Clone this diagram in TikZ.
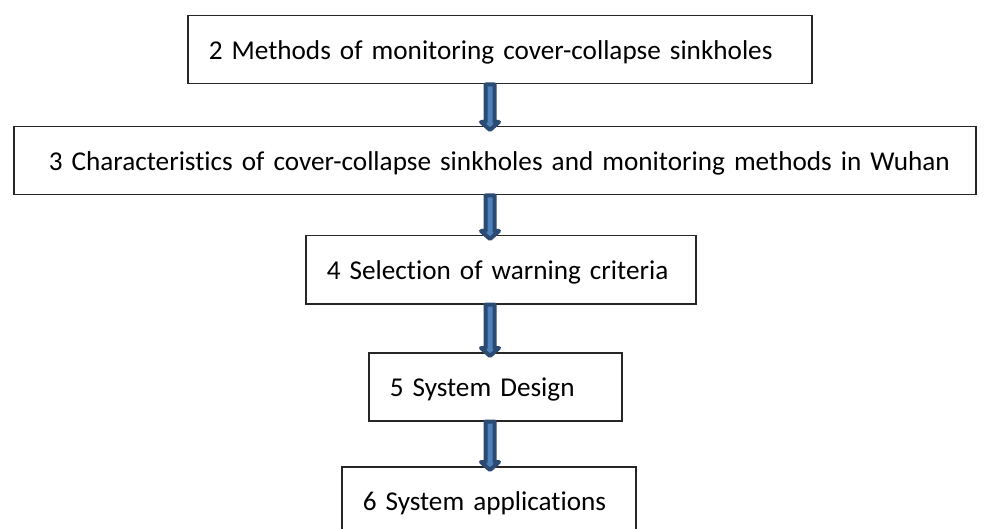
\documentclass[tikz,border=0pt]{standalone}
\usepackage{fontspec}
\setmainfont{Carlito}[Ligatures=NoCommon]
\usetikzlibrary{calc}
\definecolor{arrowfill}{HTML}{4F81BD}
\definecolor{arrowline}{HTML}{2B4B73}
% block arrow from the bottom of one box to the top of the next
\newcommand{\downblock}[2]{%
\path (#1.south -| axis) coordinate (s) (#2.north -| axis) coordinate (t);
\draw[blockarrow] ($(s)+(-4.5,0)$) -- ($(t)+(-4.5,4)$) -- ($(t)+(-9,4)$) -- ($(t)+(0,-4)$)
  -- ($(t)+(9,4)$) -- ($(t)+(4.5,4)$) -- ($(s)+(4.5,0)$) -- cycle;}
\begin{document}
\begin{tikzpicture}[x=1pt,y=1pt,
  stage/.style={draw=black!85,line width=1.5pt,minimum height=68pt,inner xsep=21pt,text height=23pt,text depth=3pt,align=left,anchor=north west,font=\fontsize{27.2}{33}\selectfont},
  blockarrow/.style={fill=arrowfill,draw=arrowline,line width=4pt,line join=round}]
\useasboundingbox (0,0) rectangle (984,-529);
\coordinate (axis) at (490,0);
\node[stage,text width=582pt] (methods) at (187,-15) {2 Methods of monitoring cover-collapse sinkholes};
\node[stage,inner xsep=35pt,text width=892pt] (features) at (13,-126) {\mbox{3 Characteristics of cover-collapse sinkholes and monitoring methods in Wuhan}};
\node[stage,text width=348pt] (criteria) at (305,-235) {4 Selection of warning criteria};
\node[stage,text width=211pt] (design) at (368,-352) {5 System Design};
\node[stage,text width=252pt] (application) at (341,-466) {6 System applications};
\downblock{methods}{features}
\downblock{features}{criteria}
\downblock{criteria}{design}
\downblock{design}{application}
\end{tikzpicture}
\end{document}
